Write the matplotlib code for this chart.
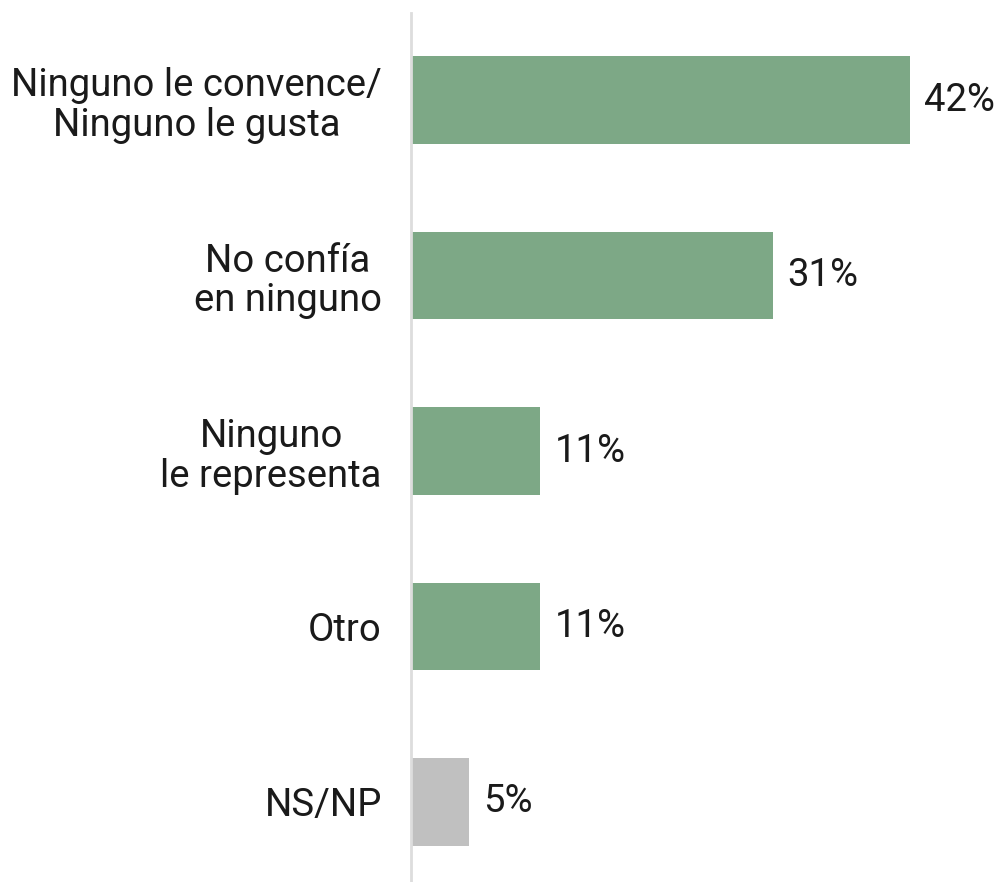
import matplotlib.pyplot as plt

categorias = ['Ninguno le convence/\nNinguno le gusta', 'No confía\nen ninguno',
              'Ninguno\nle representa', 'Otro', 'NS/NP']
valores = [42, 30.5, 10.9, 10.9, 4.9]
etiquetas = ['42%', '31%', '11%', '11%', '5%']
colores = ['#7da886', '#7da886', '#7da886', '#7da886', '#c0c0c0']

plt.rcParams['font.family'] = ['Roboto', 'DejaVu Sans']

fig = plt.figure(figsize=(10.02, 8.82), dpi=100)
ax = fig.add_axes([411 / 1002, 0, (1002 - 411) / 1002, (882 - 13) / 882])

pos = list(range(len(valores)))
ax.barh(pos, valores, height=0.5, color=colores, left=0, zorder=2)

for p, v, t in zip(pos, valores, etiquetas):
    ax.annotate(t, (v, p), xytext=(10, 0), textcoords='offset points',
                ha='left', va='center', fontsize=27.5, color='#1a1a1a')

ax.set_xlim(0, 49.75)
ax.set_ylim(4.456, -0.496)
ax.set_yticks(pos)
ax.set_yticklabels(categorias, fontsize=27.5, color='#1a1a1a')
for lbl in ax.get_yticklabels():
    lbl.set_multialignment('center')
    lbl.set_linespacing(1.1)
ax.tick_params(axis='y', length=0, pad=21)
ax.set_xticks([])

for s in ['top', 'right', 'bottom']:
    ax.spines[s].set_visible(False)
ax.spines['left'].set_color('#dddddd')
ax.spines['left'].set_linewidth(2)

fig.savefig('out.png', dpi=100)
